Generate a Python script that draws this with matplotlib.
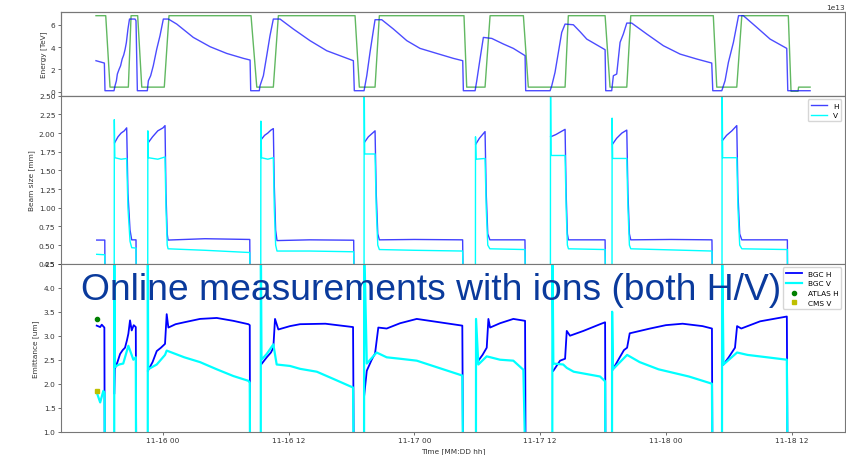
import numpy as np
import pandas as pd
import matplotlib
matplotlib.use("Agg")
import matplotlib.pyplot as plt
import matplotlib.dates as mdates

nan = np.nan
t0 = pd.Timestamp("2018-11-16 00:00")

# all times are hours after 11-16 00:00
# --- beam energy [TeV]
t_energy = [-6.40, -5.47, -5.06, -3.31, -3.05, -2.42, -2.03, 0.12, 0.57, 8.40,
            8.95, 10.53, 11.01, 18.33, 18.74, 20.24, 20.65, 28.73, 28.99, 30.74,
            31.22, 34.40, 34.87, 38.38, 38.69, 42.20, 42.67, 44.27, 44.65, 52.53,
            52.86, 54.77, 55.25, 59.69, 59.95, 60.62, 60.67, 61.77]
energy = [6.8, 6.8, 0.42, 0.42] * 8 + [6.8, 6.8, 0.05, 0.05, 0.42, 0.42]

# --- beam intensity [1e13]
t_int = [-6.40, -5.60, -5.54, -4.68, -4.58, -4.45, -4.36, -4.20, -4.05, -3.90,
         -3.75, -3.62, -3.50, -3.35, -3.20, -2.67, -2.58, -2.45,
         -1.50, -1.40, -1.18, -0.93, -0.60, -0.29, 0.03, 0.51, 1.31, 2.89,
         4.49, 6.08, 7.67, 8.31, 8.37,
         9.19, 9.26, 9.58, 9.90, 10.21, 10.53, 11.17, 12.44, 14.03, 15.63,
         18.17, 18.26,
         19.19, 19.45, 19.76, 20.10, 20.24, 20.88, 21.99, 23.27, 24.53, 26.13,
         27.71, 28.61, 28.67,
         29.79, 29.95, 30.26, 30.58, 31.38, 32.49, 33.44, 34.56, 34.62,
         36.95, 37.11, 37.42, 37.74, 38.06, 38.38, 39.17, 39.81, 40.45, 42.20, 42.26,
         42.83, 42.99, 43.31, 43.63, 43.94, 44.27, 44.74, 46.18, 47.76, 49.36,
         50.95, 52.38, 52.48,
         53.34, 53.65, 53.97, 54.45, 54.94, 55.40, 56.68, 57.95, 59.54, 59.64, 61.77]
intensity = [2.78, 2.57, 0.10, 0.10, 0.55, 0.99, 1.59, 2.0, 2.33, 2.93,
             3.3, 3.8, 4.4, 5.6, 6.5, 6.5, 6.35, 0.10,
             0.10, 0.99, 1.44, 2.33, 3.82, 5.01, 6.50, 6.50, 6.05, 4.86,
             4.03, 3.43, 2.99, 2.84, 0.10,
             0.10, 0.55, 1.44, 3.23, 5.01, 6.50, 6.50, 5.61, 4.57, 3.67,
             2.78, 0.10,
             0.10, 1.44, 3.53, 5.61, 6.44, 6.44, 5.61, 4.57, 3.88, 3.43,
             2.99, 2.78, 0.10,
             0.10, 0.99, 2.93, 4.86, 4.77, 4.27, 3.88, 3.23, 0.10,
             0.10, 0.55, 1.74, 3.52, 5.31, 6.05, 5.99, 5.37, 4.71, 3.76, 0.10,
             0.10, 1.44, 1.59, 4.42, 5.16, 6.14, 6.14, 5.16, 4.12, 3.37,
             2.93, 2.57, 0.10,
             0.10, 0.99, 2.63, 4.42, 6.80, 6.80, 5.76, 4.71, 3.88, 0.10, 0.10]

# --- beam size [mm]
t_bs_h = [-6.33, -5.56, -5.54, -5.54,
          -4.62, -4.3, -4.0, -3.7, -3.47, -3.35, -3.15, -2.99, -2.58, -2.55, -2.55,
          -1.42, -1.0, -0.5, 0.0, 0.19, 0.28, 0.40, 0.48, 4.0, 8.28, 8.31, 8.31,
          9.38, 9.7, 10.0, 10.3, 10.53, 10.62, 10.75, 10.88, 14.0, 18.2, 18.24, 18.24,
          19.25, 19.6, 20.0, 20.24, 20.35, 20.5, 20.65, 24.0, 28.6, 28.65, 28.65,
          29.85, 30.2, 30.5, 30.74, 30.85, 31.0, 31.2, 34.55, 34.6, 34.6,
          37.0, 37.5, 38.0, 38.38, 38.48, 38.6, 38.7, 42.2, 42.24, 42.24,
          42.9, 43.3, 43.8, 44.27, 44.38, 44.52, 44.65, 48.5, 52.4, 52.45, 52.45,
          53.4, 53.8, 54.3, 54.77, 54.88, 55.05, 55.25, 59.6, 59.62]
bs_h = [0.567, 0.567, 0.0, nan,
        1.87, 1.95, 2.0, 2.03, 2.07, 1.2, 0.7, 0.57, 0.57, 0.0, nan,
        1.87, 1.95, 2.03, 2.07, 2.10, 1.2, 0.65, 0.567, 0.585, 0.575, 0.0, nan,
        1.915, 1.97, 2.0, 2.04, 2.06, 1.3, 0.7, 0.56, 0.57, 0.565, 0.0, nan,
        1.88, 1.95, 2.0, 2.03, 1.2, 0.65, 0.57, 0.575, 0.57, 0.0, nan,
        1.85, 1.93, 1.98, 2.02, 1.2, 0.65, 0.57, 0.57, 0.0, nan,
        1.95, 1.98, 2.02, 2.05, 1.2, 0.65, 0.57, 0.57, 0.0, nan,
        1.85, 1.93, 2.0, 2.04, 1.2, 0.65, 0.57, 0.575, 0.57, 0.0, nan,
        1.9, 1.97, 2.03, 2.1, 1.2, 0.65, 0.57, 0.57, 0.0]

t_bs_v = [-6.33, -5.56, -5.54, -5.54,
          -4.66, -4.65, -4.60, -4.0, -3.47, -3.35, -3.15, -2.99, -2.58, -2.55, -2.55,
          -1.46, -1.45, -1.40, -0.5, 0.19, 0.28, 0.40, 0.48, 4.0, 8.28, 8.31, 8.31,
          9.33, 9.34, 9.40, 10.0, 10.53, 10.62, 10.75, 10.88, 14.0, 18.2, 18.24, 18.24,
          19.19, 19.20, 19.25, 20.24, 20.35, 20.5, 20.65, 24.0, 28.6, 28.65, 28.65,
          29.82, 29.83, 29.88, 30.74, 30.85, 31.0, 31.2, 34.55, 34.6, 34.6,
          36.98, 36.99, 37.04, 38.38, 38.48, 38.6, 38.7, 42.2, 42.24, 42.24,
          42.86, 42.87, 42.92, 44.27, 44.38, 44.52, 44.65, 52.4, 52.45, 52.45,
          53.36, 53.37, 53.42, 54.77, 54.88, 55.05, 55.25, 59.6, 59.62]
bs_v = [0.376, 0.37, 0.0, nan,
        0.0, 2.18, 1.67, 1.65, 1.66, 1.0, 0.55, 0.465, 0.46, 0.0, nan,
        0.0, 2.03, 1.67, 1.65, 1.68, 1.0, 0.5, 0.45, 0.43, 0.40, 0.0, nan,
        0.0, 2.16, 1.67, 1.65, 1.67, 1.0, 0.5, 0.42, 0.42, 0.41, 0.0, nan,
        0.0, 2.8, 1.72, 1.72, 1.0, 0.5, 0.44, 0.43, 0.42, 0.0, nan,
        0.0, 1.95, 1.65, 1.66, 1.0, 0.5, 0.45, 0.44, 0.0, nan,
        0.0, 2.8, 1.70, 1.70, 1.0, 0.5, 0.45, 0.44, 0.0, nan,
        0.0, 2.2, 1.66, 1.66, 1.0, 0.5, 0.45, 0.42, 0.0, nan,
        0.0, 2.8, 1.67, 1.67, 1.0, 0.5, 0.45, 0.44, 0.0]

# --- emittance [um]
t_em_h = [-6.33, -6.0, -5.85, -5.6, -5.56, -5.56,
          -4.65, -4.60, -4.35, -4.10, -3.85, -3.63, -3.45, -3.31, -3.15, -2.99, -2.8, -2.6, -2.55, -2.55,
          -1.44, -1.0, -0.60, -0.2, 0.19, 0.35, 0.51, 1.2, 2.03, 3.53, 5.13, 6.71, 8.15, 8.28, 8.31, 8.31,
          9.40, 9.9, 10.3, 10.53, 10.69, 11.01, 12.12, 13.08, 15.5, 18.14, 18.22, 18.22,
          19.20, 19.45, 19.92, 20.24, 20.55, 21.35, 22.63, 24.22, 28.57, 28.65, 28.65,
          30.10, 30.5, 30.90, 31.06, 31.22, 32.17, 33.44, 34.56, 34.62, 34.62,
          37.26, 37.9, 38.38, 38.54, 38.85, 40.13, 41.72, 42.2, 42.24, 42.24,
          42.95, 43.6, 44.0, 44.3, 44.55, 46.5, 48.0, 49.6, 51.5, 52.4, 52.45, 52.45,
          53.5, 54.0, 54.6, 54.8, 55.2, 57.0, 59.55, 59.62]
em_h = [3.21, 3.18, 3.23, 3.17, 0.0, nan,
        1.8, 2.31, 2.45, 2.62, 2.7, 2.75, 2.9, 3.04, 3.32, 3.11, 3.22, 3.18, 0.0, nan,
        2.27, 2.45, 2.68, 2.75, 2.83, 3.45, 3.17, 3.24, 3.28, 3.35, 3.37, 3.31, 3.24, 3.22, 0.0, nan,
        2.41, 2.55, 2.65, 2.75, 3.35, 3.13, 3.2, 3.24, 3.25, 3.18, 0.0, nan,
        1.75, 2.27, 2.5, 2.63, 3.17, 3.15, 3.26, 3.35, 3.21, 0.0, nan,
        2.48, 2.6, 2.75, 3.35, 3.17, 3.26, 3.35, 3.31, 0.0, nan,
        2.27, 2.48, 2.52, 3.1, 3.0, 3.1, 3.24, 3.28, 0.0, nan,
        2.3, 2.55, 2.7, 2.75, 3.05, 3.15, 3.22, 3.25, 3.2, 3.15, 0.0, nan,
        2.4, 2.55, 2.75, 3.2, 3.15, 3.3, 3.4, 0.0]

t_em_v = [-6.33, -6.0, -5.7, -5.58, -5.56, -5.56,
          -4.66, -4.65, -4.62, -4.2, -3.8, -3.31, -2.83, -2.6, -2.57, -2.57,
          -1.46, -1.45, -1.42, -0.60, 0.19, 0.35, 2.03, 3.53, 5.13, 6.71, 8.15, 8.28, 8.31, 8.31,
          9.33, 9.34, 9.40, 9.90, 10.53, 10.85, 12.12, 13.08, 14.68, 16.26, 18.14, 18.22, 18.22,
          19.19, 19.20, 19.45, 20.39, 21.35, 22.63, 24.22, 28.57, 28.65, 28.65,
          29.87, 29.88, 30.10, 30.90, 32.17, 33.44, 34.4, 34.62, 34.62,
          37.16, 37.17, 37.26, 38.2, 38.54, 39.2, 41.72, 42.2, 42.24, 42.24,
          42.86, 42.87, 42.95, 44.3, 45.5, 47.3, 50.2, 52.4, 52.45, 52.45,
          53.36, 53.37, 53.5, 54.8, 55.8, 59.55, 59.62]
em_v = [1.82, 1.61, 1.85, 1.8, 0.0, nan,
        0.0, 5.0, 2.35, 2.4, 2.42, 2.79, 2.5, 2.55, 0.0, nan,
        0.0, 5.0, 2.3, 2.4, 2.6, 2.69, 2.55, 2.45, 2.3, 2.16, 2.06, 2.02, 0.0, nan,
        0.0, 5.0, 2.5, 2.62, 2.82, 2.4, 2.37, 2.31, 2.25, 2.1, 1.92, 0.0, nan,
        0.0, 5.0, 2.42, 2.65, 2.55, 2.52, 2.48, 2.17, 0.0, nan,
        0.0, 3.35, 2.4, 2.57, 2.5, 2.48, 2.29, 0.0, nan,
        0.0, 5.0, 2.42, 2.4, 2.33, 2.25, 2.15, 2.05, 0.0, nan,
        0.0, 3.5, 2.3, 2.6, 2.45, 2.3, 2.15, 2.0, 0.0, nan,
        0.0, 5.0, 2.4, 2.65, 2.6, 2.5, 0.0]

# luminosity-derived reference points
t_atlas_h, atlas_h = [-6.27], [3.34]
t_cms_v, cms_v = [-6.33], [1.85]


def to_time(hours):
    return t0 + pd.to_timedelta(np.asarray(hours, dtype=float), unit="h")


plt.rcParams.update({
    "font.size": 5.3,
    "axes.linewidth": 0.8,
    "axes.edgecolor": "#777777",
    "xtick.major.size": 2,
    "ytick.major.size": 2,
    "xtick.major.width": 0.5,
    "ytick.major.width": 0.5,
    "xtick.major.pad": 2,
    "ytick.major.pad": 2,
    "xtick.color": "#333333",
    "ytick.color": "#333333",
    "axes.labelcolor": "#333333",
    "axes.labelpad": 3,
})

fig = plt.figure(figsize=(8.46, 4.56), dpi=100)
gs = fig.add_gridspec(3, 1, height_ratios=[1, 2, 2], hspace=0,
                      left=0.0721, right=0.9988, bottom=0.0511, top=0.972)
ax_e = fig.add_subplot(gs[0])
ax_b = fig.add_subplot(gs[1], sharex=ax_e)
ax_m = fig.add_subplot(gs[2], sharex=ax_e)

# energy + intensity (intensity on a twin axis scaled in 1e13)
ax_e.plot(to_time(t_energy), energy, color="#2ca02c", alpha=0.75, lw=1.0)
ax_e.set_ylim(-0.35, 7.15)
ax_e.set_yticks([0, 2, 4, 6])
ax_e.set_ylabel("Energy [TeV]")
ax_i = ax_e.twinx()
ax_i.plot(to_time(t_int), np.array(intensity) * 1e13, color="blue", alpha=0.7, lw=1.0)
ax_i.set_ylim(-0.35e13, 7.15e13)
ax_i.set_yticks([])
ax_i.spines["right"].set_visible(False)
ax_e.text(1.0, 1.02, "1e13", transform=ax_e.transAxes, ha="right", va="bottom",
          fontsize=5.3, color="#333333")

# beam size
ax_b.plot(to_time(t_bs_h), bs_h, color="blue", alpha=0.75, lw=1.0, label="H")
ax_b.plot(to_time(t_bs_v), bs_v, color="cyan", lw=1.0, label="V")
ax_b.set_ylim(0.25, 2.5)
ax_b.set_yticks(np.arange(0.25, 2.51, 0.25))
ax_b.set_ylabel("Beam size [mm]")
ax_b.legend(loc="upper right", fontsize=5.3, handlelength=2.2)

# emittance
ax_m.plot(to_time(t_em_h), em_h, color="blue", lw=1.3, label="BGC H")
ax_m.plot(to_time(t_em_v), em_v, color="cyan", lw=1.6, label="BGC V")
ax_m.plot(to_time(t_atlas_h), atlas_h, "o", color="green", ms=3, label="ATLAS H")
ax_m.plot(to_time(t_cms_v), cms_v, "s", color="#bfbf00", ms=3, label="CMS V")
ax_m.set_ylim(1.0, 4.5)
ax_m.set_yticks(np.arange(1.0, 4.51, 0.5))
ax_m.set_ylabel("Emittance [um]")
ax_m.set_xlabel("Time [MM:DD hh]")
ax_m.legend(loc="upper right", fontsize=5.3, handlelength=2.2)

ax_m.set_xlim(to_time([-9.74])[0], to_time([65.1])[0])
ax_m.xaxis.set_major_locator(mdates.HourLocator(byhour=[0, 12]))
ax_m.xaxis.set_major_formatter(mdates.DateFormatter("%m-%d %H"))
for ax in (ax_e, ax_b):
    ax.tick_params(labelbottom=False)

fig.text(0.0957, 0.342, "Online measurements with ions (both H/V)",
         fontsize=26.8, color="#0a3a9c", family="Liberation Sans",
         ha="left", va="baseline")

fig.savefig("out.png", dpi=100)
